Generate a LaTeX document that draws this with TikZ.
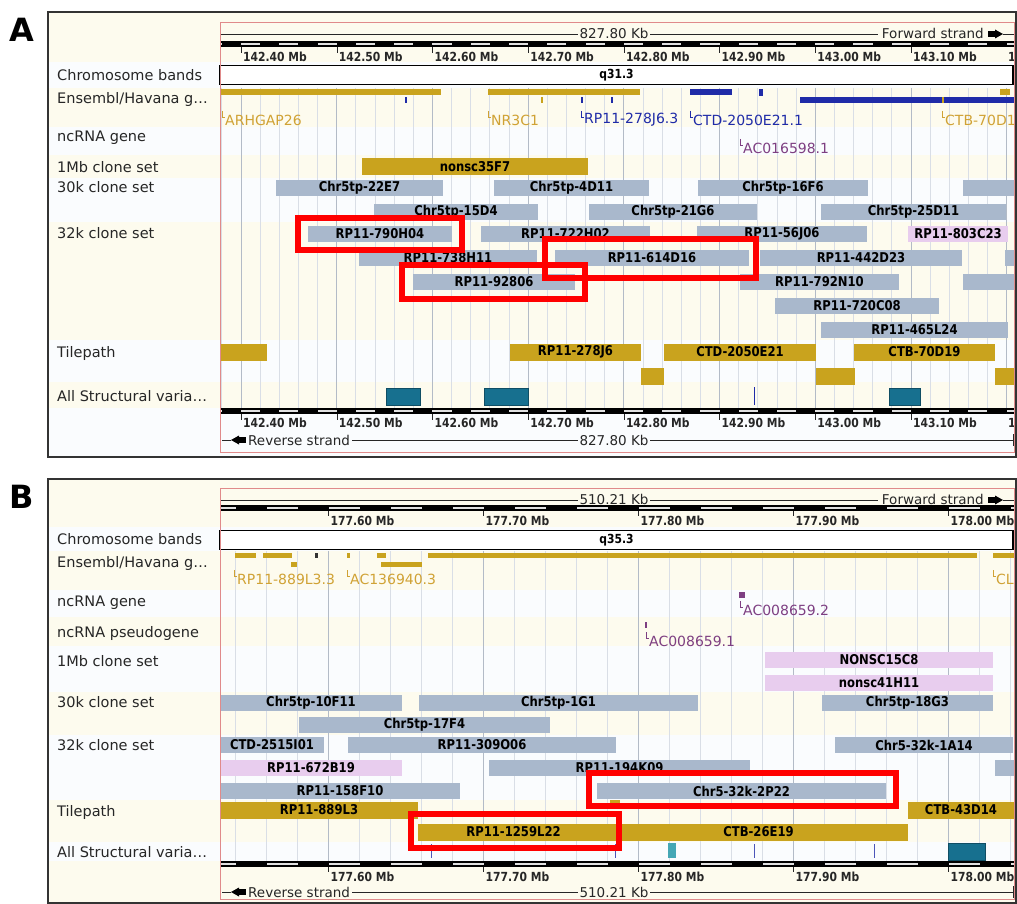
\documentclass[tikz,border=0pt]{standalone}
\usepackage{fontspec}
\setmainfont{DejaVu Sans}
\newfontfamily\narrowfont[FakeStretch=0.86]{DejaVu Sans}
\usetikzlibrary{positioning}

\definecolor{cream}{HTML}{FDFBEE}
\definecolor{pale}{HTML}{FAFCFE}
\definecolor{gridmin}{HTML}{D9DEE6}
\definecolor{gridmaj}{HTML}{B3BBC7}
\definecolor{clonegray}{HTML}{A9B8CC}
\definecolor{clonepink}{HTML}{E8CDEE}
\definecolor{tilegold}{HTML}{C9A31E}
\definecolor{genegold}{HTML}{D0A234}
\definecolor{geneblue}{HTML}{1F2BA8}
\definecolor{genepurple}{HTML}{7E3F82}
\definecolor{svteal}{HTML}{17708F}
\definecolor{svlight}{HTML}{45A7B5}
\definecolor{hired}{HTML}{FF0000}
\definecolor{trackred}{HTML}{E08A8A}

\begin{document}
\begin{tikzpicture}[x=1pt,y=-1pt,
  clone/.style={
    fill=clonegray,
    inner sep=0pt,
    minimum height=16pt,
    text=black,
    font=\narrowfont\bfseries\fontsize{13.5}{15}\selectfont
  },
  pinkclone/.style={clone,fill=clonepink},
  tile/.style={clone,fill=tilegold,minimum height=17pt},
  trackname/.style={
    anchor=west,
    inner sep=0pt,
    text=black!85,
    font=\fontsize{14.5}{16}\selectfont
  },
  mblabel/.style={
    anchor=west,
    inner sep=0pt,
    text=black!85,
    font=\narrowfont\bfseries\fontsize{12.5}{14}\selectfont
  },
  scaletext/.style={
    inner sep=0pt,
    text=black!85,
    font=\fontsize{13.5}{15}\selectfont
  },
  genelabel/.style={
    anchor=west,
    inner sep=0pt,
    font=\fontsize{14}{16}\selectfont
  },
  chrombox/.style={
    draw,
    line width=1.2pt,
    fill=white,
    inner sep=0pt,
    minimum width=793pt,
    minimum height=19pt,
    font=\narrowfont\bfseries\fontsize{12.5}{14}\selectfont
  },
  panellabel/.style={font=\bfseries\fontsize{32}{34}\selectfont},
  hilite/.style={draw=hired,line width=5.5pt},
  frame/.style={draw=black!80,line width=1.6pt},
  trackedge/.style={draw=trackred,line width=0.7pt}
  ]
  \useasboundingbox (0,0) rectangle (1017,904);
  \fill[white] (0,0) rectangle (1017,904);

  %%%%%%%%%%%%%%%% panel A
  \foreach \ya/\yb/\c in {13/62/cream,62/88/pale,88/127/cream,127/155/pale,155/178/cream,
    178/222/pale,222/340/cream,340/382/pale,382/408/cream,408/456/pale}
  \fill[\c] (49,\ya) rectangle (1015,\yb);

  \foreach \k in {-1,...,40}
  \draw[gridmin,line width=0.8pt] ({241+19.14*\k},88) -- ({241+19.14*\k},408);
  \foreach \k in {0,...,8}
  \draw[gridmaj,line width=0.8pt] ({241+95.7*\k},88) -- ({241+95.7*\k},408);

  \node[panellabel] (labA) at (22,30) {A};

  \foreach \y/\l [count=\i] in {75/{Chromosome bands},100/{Ensembl/Havana g\dots},138/{ncRNA gene},
    167/{1Mb clone set},187/{30k clone set},233/{32k clone set},353/{Tilepath},396/{All Structural varia\dots}}
  \node[trackname] (tnA\i) at (57,\y) {\l};

  % scale bars
  \draw[black!85] (220,29) -- (220,41);
  \draw[black!85] (220,34) -- (578,34);
  \node[scaletext] (kbA) at (614,33) {827.80 Kb};
  \draw[black!85] (650,34) -- (878,34);
  \node[scaletext,anchor=east] (fwA) at (984,33) {Forward strand};
  \fill (988,31) rectangle (995,37);
  \fill (995,29.5) -- (1003,34) -- (995,38.5) -- cycle;
  \draw[black!85] (1003,34) -- (1014,34);

  \foreach \yr/\yt/\yl in {41/47/57,408/414/423} {
    \fill[black] (220,\yr) rectangle (1014,\yr+6);
    \begin{scope}
      \clip (220,\yr) rectangle (1014,\yr+6);
      \foreach \k in {-1,...,20}
      \fill[black!12] ({241+38.28*\k},\yr+2) rectangle ++(19.14,2.2);
    \end{scope}
    \foreach \m/\t in {0/142.40,1/142.50,2/142.60,3/142.70,4/142.80,5/142.90,6/143.00,7/143.10} {
      \draw[black!85] ({241+95.7*\m},\yt) -- ++(0,6);
      \node[mblabel] at ({243+95.7*\m},\yl) {\t\ Mb};
    }
    \node[mblabel] at (1008,\yl) {1};
  }

  \draw[black!85] (222,440) -- (231,440);
  \fill (231,440) -- (239,435.5) -- (239,444.5) -- cycle;
  \fill (239,437) rectangle (246,443);
  \node[scaletext,anchor=west] (rvA) at (248,440) {Reverse strand};
  \draw[black!85] (352,440) -- (578,440);
  \node[scaletext] (kbA2) at (614,440) {827.80 Kb};
  \draw[black!85] (650,440) -- (1013,440);
  \draw[black!85] (1013,434) -- (1013,446);

  \node[chrombox] (chromA) at (616.5,75) {q31.3};

  % genes
  \fill[tilegold] (220,89) rectangle (441,95);
  \fill[tilegold] (488,89) rectangle (640,95);
  \fill[tilegold] (1000,89) rectangle (1010,95);
  \fill[geneblue] (690,89) rectangle (732,95);
  \fill[geneblue] (759,89) rectangle (763,96);
  \fill[geneblue] (800,97) rectangle (1014,103);
  \foreach \x/\c in {406/geneblue,542/tilegold,582/geneblue,612/geneblue,943/tilegold}
  \fill[\c] (\x-1,97) rectangle (\x+1.2,103);

  \foreach \x/\y/\c/\t [count=\i] in {222/120/genegold/ARHGAP26,488/120/genegold/NR3C1,
    581/120/geneblue/RP11-278J6.3,690/120/geneblue/CTD-2050E21.1,942/120/genegold/CTB-70D1,
    740/148/genepurple/AC016598.1} {
    \draw[\c,line width=0.9pt] (\x,\y-9) |- (\x+3,\y-3);
    \node[genelabel,text=\c] (gnA\i) at (\x+3,\y) {\t};
  }

  % clones
  \node[tile,minimum width=226pt] (mbA1) at (475,167) {nonsc35F7};
  \foreach \xa/\xb/\y/\l [count=\i] in {276/443/188/Chr5tp-22E7,494/649/188/Chr5tp-4D11,
    698/868/188/Chr5tp-16F6,963/1014/188/{},374/538/212/Chr5tp-15D4,589/757/212/Chr5tp-21G6,
    821/1006/212/Chr5tp-25D11,308/452/234/RP11-790H04,481/650/234/RP11-722H02,
    697/867/234/RP11-56J06,359/537/258/RP11-738H11,555/749/258/RP11-614D16,
    760/962/258/RP11-442D23,1005/1014/258/{},413/575/282/RP11-92806,740/899/282/RP11-792N10,
    963/1014/282/{},775/939/306/RP11-720C08,821/1008/330/RP11-465L24}
  \node[clone,minimum width={(\xb-\xa)*1pt}] (clA\i) at ({(\xa+\xb)/2},\y) {\l};
  \node[pinkclone,minimum width=100pt] (pkA1) at (958,234) {RP11-803C23};

  \foreach \xa/\xb/\y/\l [count=\i] in {220/267/352/{},510/641/352/RP11-278J6,
    664/816/352/CTD-2050E21,854/995/352/CTB-70D19,641/664/376/{},816/855/376/{},995/1014/376/{}}
  \node[tile,minimum width={(\xb-\xa)*1pt}] (tpA\i) at ({(\xa+\xb)/2},\y) {\l};

  % structural variants
  \foreach \xa/\xb in {386/420,484/528,889/920}
  \filldraw[svteal,draw=svteal!70!black] (\xa,388) rectangle (\xb,405);
  \draw[geneblue,line width=0.9pt] (754,387) -- (754,405);

  \draw[trackedge] (220,22) rectangle (1014,452);
  \draw[frame] (48,12) rectangle (1016,457);

  \draw[hilite] (298,218) rectangle (462,250);
  \draw[hilite] (545,239) rectangle (756,278);
  \draw[hilite] (402,265) rectangle (585,299);

  %%%%%%%%%%%%%%%% panel B
  \foreach \ya/\yb/\c in {479/527/cream,527/551/pale,551/590/cream,590/617/pale,617/646/cream,
    646/692/pale,692/735/cream,735/800/pale,800/842/cream,842/861/pale,861/902/cream}
  \fill[\c] (49,\ya) rectangle (1015,\yb);

  \foreach \k in {-3,...,22}
  \draw[gridmin,line width=0.8pt] ({328.5+31*\k},551) -- ({328.5+31*\k},861);
  \foreach \k in {0,...,4}
  \draw[gridmaj,line width=0.8pt] ({328.5+155*\k},551) -- ({328.5+155*\k},861);

  \node[panellabel] (labB) at (22,497) {B};

  \foreach \y/\l [count=\i] in {539/{Chromosome bands},563/{Ensembl/Havana g\dots},603/{ncRNA gene},
    633/{ncRNA pseudogene},661/{1Mb clone set},702/{30k clone set},745/{32k clone set},812/{Tilepath},
    852/{All Structural varia\dots}}
  \node[trackname] (tnB\i) at (57,\y) {\l};

  \draw[black!85] (220,495) -- (220,507);
  \draw[black!85] (220,500) -- (578,500);
  \node[scaletext] (kbB) at (614,499) {510.21 Kb};
  \draw[black!85] (650,500) -- (878,500);
  \node[scaletext,anchor=east] (fwB) at (984,499) {Forward strand};
  \fill (988,497) rectangle (995,503);
  \fill (995,495.5) -- (1003,500) -- (995,504.5) -- cycle;
  \draw[black!85] (1003,500) -- (1014,500);

  \foreach \yr/\yt/\yl in {505/511/521,861/867/877} {
    \fill[black] (220,\yr) rectangle (1014,\yr+6);
    \begin{scope}
      \clip (220,\yr) rectangle (1014,\yr+6);
      \foreach \k in {-2,...,11}
      \fill[black!12] ({328.5+62*\k},\yr+2) rectangle ++(31,2.2);
    \end{scope}
    \begin{scope}
      \clip (220,\yr) rectangle (1015,\yl+10);
      \foreach \m/\t in {0/177.60,1/177.70,2/177.80,3/177.90,4/178.00} {
        \draw[black!85] ({328.5+155*\m},\yt) -- ++(0,5);
        \node[mblabel] at ({330.5+155*\m},\yl) {\t\ Mb};
      }
    \end{scope}
  }

  \draw[black!85] (222,892) -- (231,892);
  \fill (231,892) -- (239,887.5) -- (239,896.5) -- cycle;
  \fill (239,889) rectangle (246,895);
  \node[scaletext,anchor=west] (rvB) at (248,892) {Reverse strand};
  \draw[black!85] (352,892) -- (578,892);
  \node[scaletext] (kbB2) at (614,892) {510.21 Kb};
  \draw[black!85] (650,892) -- (1013,892);
  \draw[black!85] (1013,886) -- (1013,898);

  \node[chrombox] (chromB) at (616.5,540) {q35.3};

  % genes
  \foreach \xa/\xb in {235/256,263/292,347/349.5,377/386,428/977,993/1014}
  \fill[tilegold] (\xa,553) rectangle (\xb,558);
  \fill[black!80] (315,553) rectangle (317.5,558);
  \foreach \xa/\xb in {291/297,381/422}
  \fill[tilegold] (\xa,562) rectangle (\xb,567);
  \fill[genepurple] (739,592) rectangle (745,598);
  \fill[genepurple] (645,622) rectangle (647,628);

  \foreach \x/\y/\c/\t [count=\i] in {234/579/genegold/RP11-889L3.3,347/579/genegold/AC136940.3,
    993/579/genegold/CL,740/610/genepurple/AC008659.2,646/641/genepurple/AC008659.1} {
    \draw[\c,line width=0.9pt] (\x,\y-9) |- (\x+3,\y-3);
    \node[genelabel,text=\c] (gnB\i) at (\x+3,\y) {\t};
  }

  % clones
  \foreach \xa/\xb/\y/\l [count=\i] in {765/993/660/NONSC15C8,765/993/683/nonsc41H11,
    220/402/768/RP11-672B19}
  \node[pinkclone,minimum width={(\xb-\xa)*1pt}] (pkB\i) at ({(\xa+\xb)/2},\y) {\l};
  \foreach \xa/\xb/\y/\l [count=\i] in {220/402/703/Chr5tp-10F11,419/698/703/Chr5tp-1G1,
    822/993/703/Chr5tp-18G3,299/550/725/Chr5tp-17F4,220/324/745/CTD-2515I01,
    348/616/745/RP11-309O06,835/1013/745/Chr5-32k-1A14,489/750/768/RP11-194K09,
    995/1014/768/{},220/460/791/RP11-158F10,597/886/791/Chr5-32k-2P22}
  \node[clone,minimum width={(\xb-\xa)*1pt}] (clB\i) at ({(\xa+\xb)/2},\y) {\l};

  \fill[tilegold] (610,800) rectangle (620,806);
  \foreach \xa/\xb/\y/\l [count=\i] in {220/418/810/RP11-889L3,908/1014/810/CTB-43D14,
    418/609/832/RP11-1259L22,609/908/832/CTB-26E19}
  \node[tile,minimum width={(\xb-\xa)*1pt}] (tpB\i) at ({(\xa+\xb)/2},\y) {\l};

  % structural variants
  \foreach \x in {431,615,754,874}
  \draw[geneblue!80,line width=0.9pt] (\x,844) -- (\x,858);
  \fill[svlight] (668,843) rectangle (676,858);
  \filldraw[svteal,draw=svteal!70!black] (948,843) rectangle (985,860);

  \draw[trackedge] (220,488) rectangle (1014,899);
  \draw[frame] (48,479) rectangle (1016,903);

  \draw[hilite] (589,773) rectangle (896,806);
  \draw[hilite] (411,814) rectangle (619,848);
\end{tikzpicture}
\end{document}
